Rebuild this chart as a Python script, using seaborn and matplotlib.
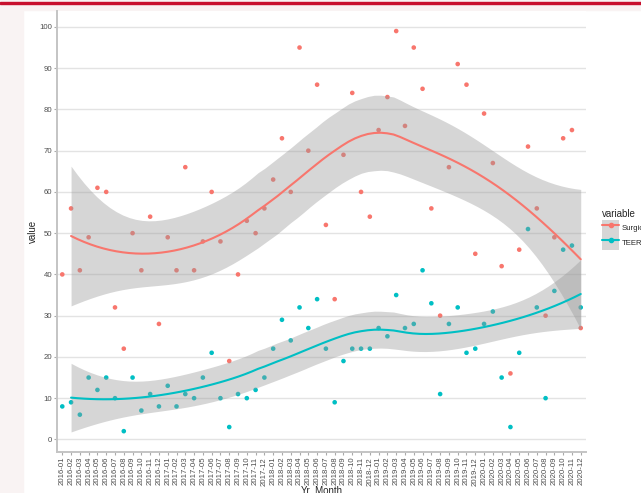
import numpy as np
import pandas as pd
import seaborn as sns
import matplotlib.pyplot as plt
from matplotlib.patches import Rectangle, Patch
from matplotlib.lines import Line2D
from matplotlib.legend_handler import HandlerTuple

# monthly counts, 2016-01 .. 2020-12
months = [f"{y}-{m:02d}" for y in range(2016, 2021) for m in range(1, 13)]
surgical = [40, 56, 41, 49, 61, 60, 32, 22, 50, 41, 54, 28,
            49, 41, 66, 41, 48, 60, 48, 19, 40, 53, 50, 56,
            63, 73, 60, 95, 70, 86, 52, 34, 69, 84, 60, 54,
            75, 83, 99, 76, 95, 85, 56, 30, 66, 91, 86, 45,
            79, 67, 42, 16, 46, 71, 56, 30, 49, 73, 75, 27]
teer = [8, 9, 6, 15, 12, 15, 10, 2, 15, 7, 11, 8,
        13, 8, 11, 10, 15, 21, 10, 3, 11, 10, 12, 15,
        22, 29, 24, 32, 27, 34, 22, 9, 19, 22, 22, 22,
        27, 25, 35, 27, 28, 41, 33, 11, 28, 32, 21, 22,
        28, 31, 15, 3, 21, 51, 32, 10, 36, 46, 47, 32]
variables = ["Surgical", "TEER"]
colors = {"Surgical": "#F8766D", "TEER": "#00BFC4"}

df = pd.DataFrame({
    "idx": list(range(len(months))) * 2,
    "variable": ["Surgical"] * len(months) + ["TEER"] * len(months),
    "value": surgical + teer,
})


def loess(x, y, xs, span=0.75):
    # local quadratic fit with tricube weights, like R's loess defaults
    n = len(x)
    q = int(np.floor(n * span))

    def row(x0):
        d = np.abs(x - x0)
        h = np.sort(d)[q - 1]
        w = np.clip(1 - (d / h) ** 3, 0, None) ** 3
        A = np.vstack([np.ones(n), x - x0, (x - x0) ** 2]).T
        W = A * w[:, None]
        return np.linalg.solve(A.T @ W, W.T)[0]

    L = np.array([row(v) for v in x])
    res = y - L @ y
    M = np.eye(n) - L
    MM = M.T @ M
    d1 = np.trace(MM)
    d2 = np.trace(MM @ MM)
    s = np.sqrt(res @ res / d1)
    dfree = d1 ** 2 / d2
    Ls = np.array([row(v) for v in xs])
    fit = Ls @ y
    se = s * np.sqrt((Ls ** 2).sum(1))
    z = 1.959964
    t = z + (z ** 3 + z) / (4 * dfree) + (5 * z ** 5 + 16 * z ** 3 + 3 * z) / (96 * dfree ** 2)
    return fit, fit - t * se, fit + t * se


# smooth is fitted from the second month onward
smooth = []
for var in variables:
    sub = df[(df.variable == var) & (df.idx >= 1)]
    x = sub.idx.to_numpy(float)
    y = sub.value.to_numpy(float)
    xs = np.linspace(x.min(), x.max(), 80)
    fit, lo, hi = loess(x, y, xs)
    smooth.append(pd.DataFrame({"x": xs, "fit": fit, "lo": lo, "hi": hi, "variable": var}))
smooth = pd.concat(smooth, ignore_index=True)

sns.set_style("white")
plt.rcParams['font.family'] = ['Liberation Sans', 'DejaVu Sans']

fig = plt.figure(figsize=(6.41, 4.93), dpi=100)
W, H = 641, 493
ax = fig.add_axes([57 / W, 1 - 452 / H, (586 - 57) / W, (452 - 11) / H])

# screenshot frame
fig.add_artist(Rectangle((0, 0), 23 / W, 1, transform=fig.transFigure, color="#F9F3F3", zorder=0))
fig.add_artist(Rectangle((0, 1 - 10 / H), 1, 10 / H, transform=fig.transFigure, color="#F9F3F3", zorder=0))
fig.add_artist(Rectangle((0, 1 - 4 / H), 1, 2 / H, transform=fig.transFigure, color="#C8102E", zorder=1))

sns.scatterplot(data=df, x="idx", y="value", hue="variable", palette=colors,
                s=11, linewidth=0, legend=False, ax=ax, zorder=2)

z = 3
for var in variables:
    sm = smooth[smooth.variable == var]
    ax.fill_between(sm.x, sm.lo, sm.hi, color="#999999", alpha=0.4, linewidth=0, zorder=z)
    sns.lineplot(data=sm, x="x", y="fit", color=colors[var], linewidth=1.5, ax=ax, zorder=z + 1)
    z += 2

allv = np.concatenate([df.value, smooth.lo, smooth.hi])
vmin, vmax = allv.min(), allv.max()
pad = (vmax - vmin) * 0.05
ax.set_ylim(vmin - pad, vmax + pad)
ax.set_xlim(-0.6, len(months) - 0.4)

ax.set_yticks(range(0, 101, 10))
ax.set_xticks(range(len(months)))
ax.set_xticklabels(months, rotation=90)
ax.tick_params(axis="both", labelsize=5.6, labelcolor="#4D4D4D", color="#AAAAAA",
               length=2, width=0.8, pad=1.5, bottom=True, left=True)
ax.grid(axis="y", color="#E3E3E3", linewidth=1.0)
ax.set_axisbelow(True)
for side in ["top", "right"]:
    ax.spines[side].set_visible(False)
for side in ["left", "bottom"]:
    ax.spines[side].set_color("#C4C4C4")
    ax.spines[side].set_linewidth(1.4)

ax.set_xlabel("Yr_Month", fontsize=7)
ax.set_ylabel("value", fontsize=7)
ax.xaxis.set_label_coords(0.5, -33 / 441)
ax.yaxis.set_label_coords(-24 / 529, 0.5)
ax.yaxis.label.set_va("center")

handles = [(Patch(facecolor="#999999", alpha=0.4, edgecolor="none"),
            Line2D([], [], color=colors[v], linewidth=1.5, marker="o", markersize=3))
           for v in variables]
leg = fig.legend(handles, variables, title="variable", loc="upper left",
                 bbox_to_anchor=(597 / W, 1 - 204 / H), frameon=False,
                 handler_map={tuple: HandlerTuple(ndivide=1, pad=0)},
                 fontsize=5.6, title_fontsize=7, handlelength=2.1, handleheight=2.6,
                 labelspacing=0.05, handletextpad=0.4, borderpad=0.2, alignment="left")

fig.savefig("out.png", dpi=100)
